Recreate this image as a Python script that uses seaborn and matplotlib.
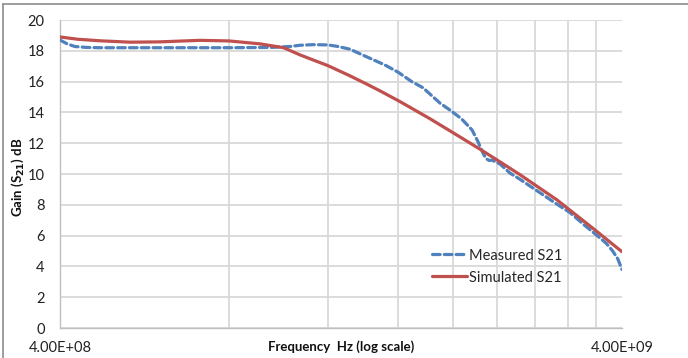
import matplotlib
matplotlib.use("Agg")
import matplotlib.pyplot as plt
import matplotlib.ticker as mticker
from matplotlib.lines import Line2D
import seaborn as sns
import pandas as pd

# Measured gain
meas_freq = [4.00e8, 4.12e8, 4.25e8, 4.45e8, 4.71e8, 6.02e8, 8.00e8, 9.50e8,
             1.026e9, 1.07e9, 1.13e9, 1.20e9, 1.25e9, 1.313e9, 1.407e9,
             1.514e9, 1.60e9, 1.69e9, 1.77e9, 1.898e9, 1.977e9, 2.07e9,
             2.164e9, 2.217e9, 2.263e9, 2.292e9, 2.32e9, 2.348e9, 2.426e9,
             2.528e9, 2.635e9, 2.824e9, 3.064e9, 3.231e9, 3.437e9, 3.60e9,
             3.75e9, 3.85e9, 3.93e9, 4.00e9]
meas_gain = [18.7, 18.45, 18.28, 18.22, 18.2, 18.2, 18.2, 18.22,
             18.28, 18.36, 18.4, 18.38, 18.28, 18.1, 17.6,
             17.08, 16.6, 16.0, 15.6, 14.6, 14.15, 13.6,
             12.86, 12.1, 11.36, 11.0, 10.88, 10.9, 10.65,
             10.06, 9.65, 8.91, 8.04, 7.5, 6.65, 6.05,
             5.5, 5.0, 4.5, 3.8]

# Simulated gain
sim_freq = [4.00e8, 4.30e8, 4.71e8, 5.33e8, 6.02e8, 7.10e8, 8.00e8, 9.08e8,
            1.00e9, 1.07e9, 1.20e9, 1.313e9, 1.407e9, 1.484e9, 1.611e9,
            1.821e9, 2.00e9, 2.236e9, 2.426e9, 2.635e9, 3.064e9, 3.60e9,
            4.00e9]
sim_gain = [18.9, 18.75, 18.65, 18.56, 18.58, 18.68, 18.64, 18.45,
            18.2, 17.73, 17.03, 16.37, 15.83, 15.40, 14.70,
            13.59, 12.69, 11.61, 10.79, 9.95, 8.32, 6.3,
            4.95]

y_ticks = [0, 2, 4, 6, 8, 10, 12, 14, 16, 18, 20]
x_tick_labels = ["4.00E+08", "4.00E+09"]

sns.set_theme(style="white")
plt.rcParams["font.family"] = ["Lato", "DejaVu Sans"]

fig = plt.figure(figsize=(6.88, 3.58), dpi=100)
ax = fig.add_axes([60 / 688, 1 - 328 / 358, 562 / 688, 308 / 358])

df_meas = pd.DataFrame({"freq": meas_freq, "gain": meas_gain})
df_sim = pd.DataFrame({"freq": sim_freq, "gain": sim_gain})

sns.lineplot(data=df_meas, x="freq", y="gain", ax=ax, color="#4F81BD",
             linewidth=2.3, linestyle=(0, (2.4, 1.3)), dash_capstyle="round",
             label="Measured S21", zorder=3)
sns.lineplot(data=df_sim, x="freq", y="gain", ax=ax, color="#C0504D",
             linewidth=2.3, label="Simulated S21", zorder=4)

ax.set_xscale("log")
ax.set_xlim(4e8, 4e9)
ax.set_ylim(0, 20)

ax.xaxis.set_major_locator(mticker.FixedLocator([4e8, 4e9]))
ax.xaxis.set_major_formatter(mticker.FixedFormatter(x_tick_labels))
ax.xaxis.set_minor_locator(mticker.FixedLocator([4e8 * k for k in range(2, 10)]))
ax.xaxis.set_minor_formatter(mticker.NullFormatter())
ax.set_yticks(y_ticks)

grid_c = "#d9d9d9"
ax.grid(True, which="major", axis="y", color=grid_c, linewidth=1.3)
ax.grid(True, which="minor", axis="x", color=grid_c, linewidth=1.3)
ax.set_axisbelow(True)

for side in ["top", "right"]:
    ax.spines[side].set_visible(False)
for side in ["left", "bottom"]:
    ax.spines[side].set_color("#bfbfbf")
    ax.spines[side].set_linewidth(1.0)

ax.tick_params(axis="both", which="major", direction="out", length=4,
               width=1, color="#bfbfbf", labelsize=10.5, labelcolor="#222222")
ax.tick_params(axis="x", which="major", pad=5)
ax.tick_params(axis="x", which="minor", length=0)
ax.tick_params(axis="y", pad=7)

ax.set_xlabel("Frequency  Hz (log scale)", fontsize=9.5, fontweight="bold",
              color="#111111", va="center")
ax.xaxis.set_label_coords(0.5, -(347 - 328) / 308)
ax.set_ylabel("Gain (S$_{\\mathbf{21}}$) dB", fontsize=9.5, fontweight="bold",
              color="#111111", va="center")
ax.yaxis.set_label_coords((18 - 60) / 562, 0.49)

leg = ax.legend(loc="upper left", bbox_to_anchor=(0.662, 0.258), frameon=False,
                fontsize=10.5, handlelength=2.4, handletextpad=0.1,
                labelspacing=0.55, borderaxespad=0, borderpad=0)

# chart frame edges
fig.add_artist(Line2D([3 / 688, 3 / 688], [0, 1 - 4 / 358],
                      transform=fig.transFigure, color="#8c8c8c", linewidth=1.2))
fig.add_artist(Line2D([3 / 688, 1], [1 - 4 / 358, 1 - 4 / 358],
                      transform=fig.transFigure, color="#8c8c8c", linewidth=1.2))

fig.savefig("out.png", dpi=100)
